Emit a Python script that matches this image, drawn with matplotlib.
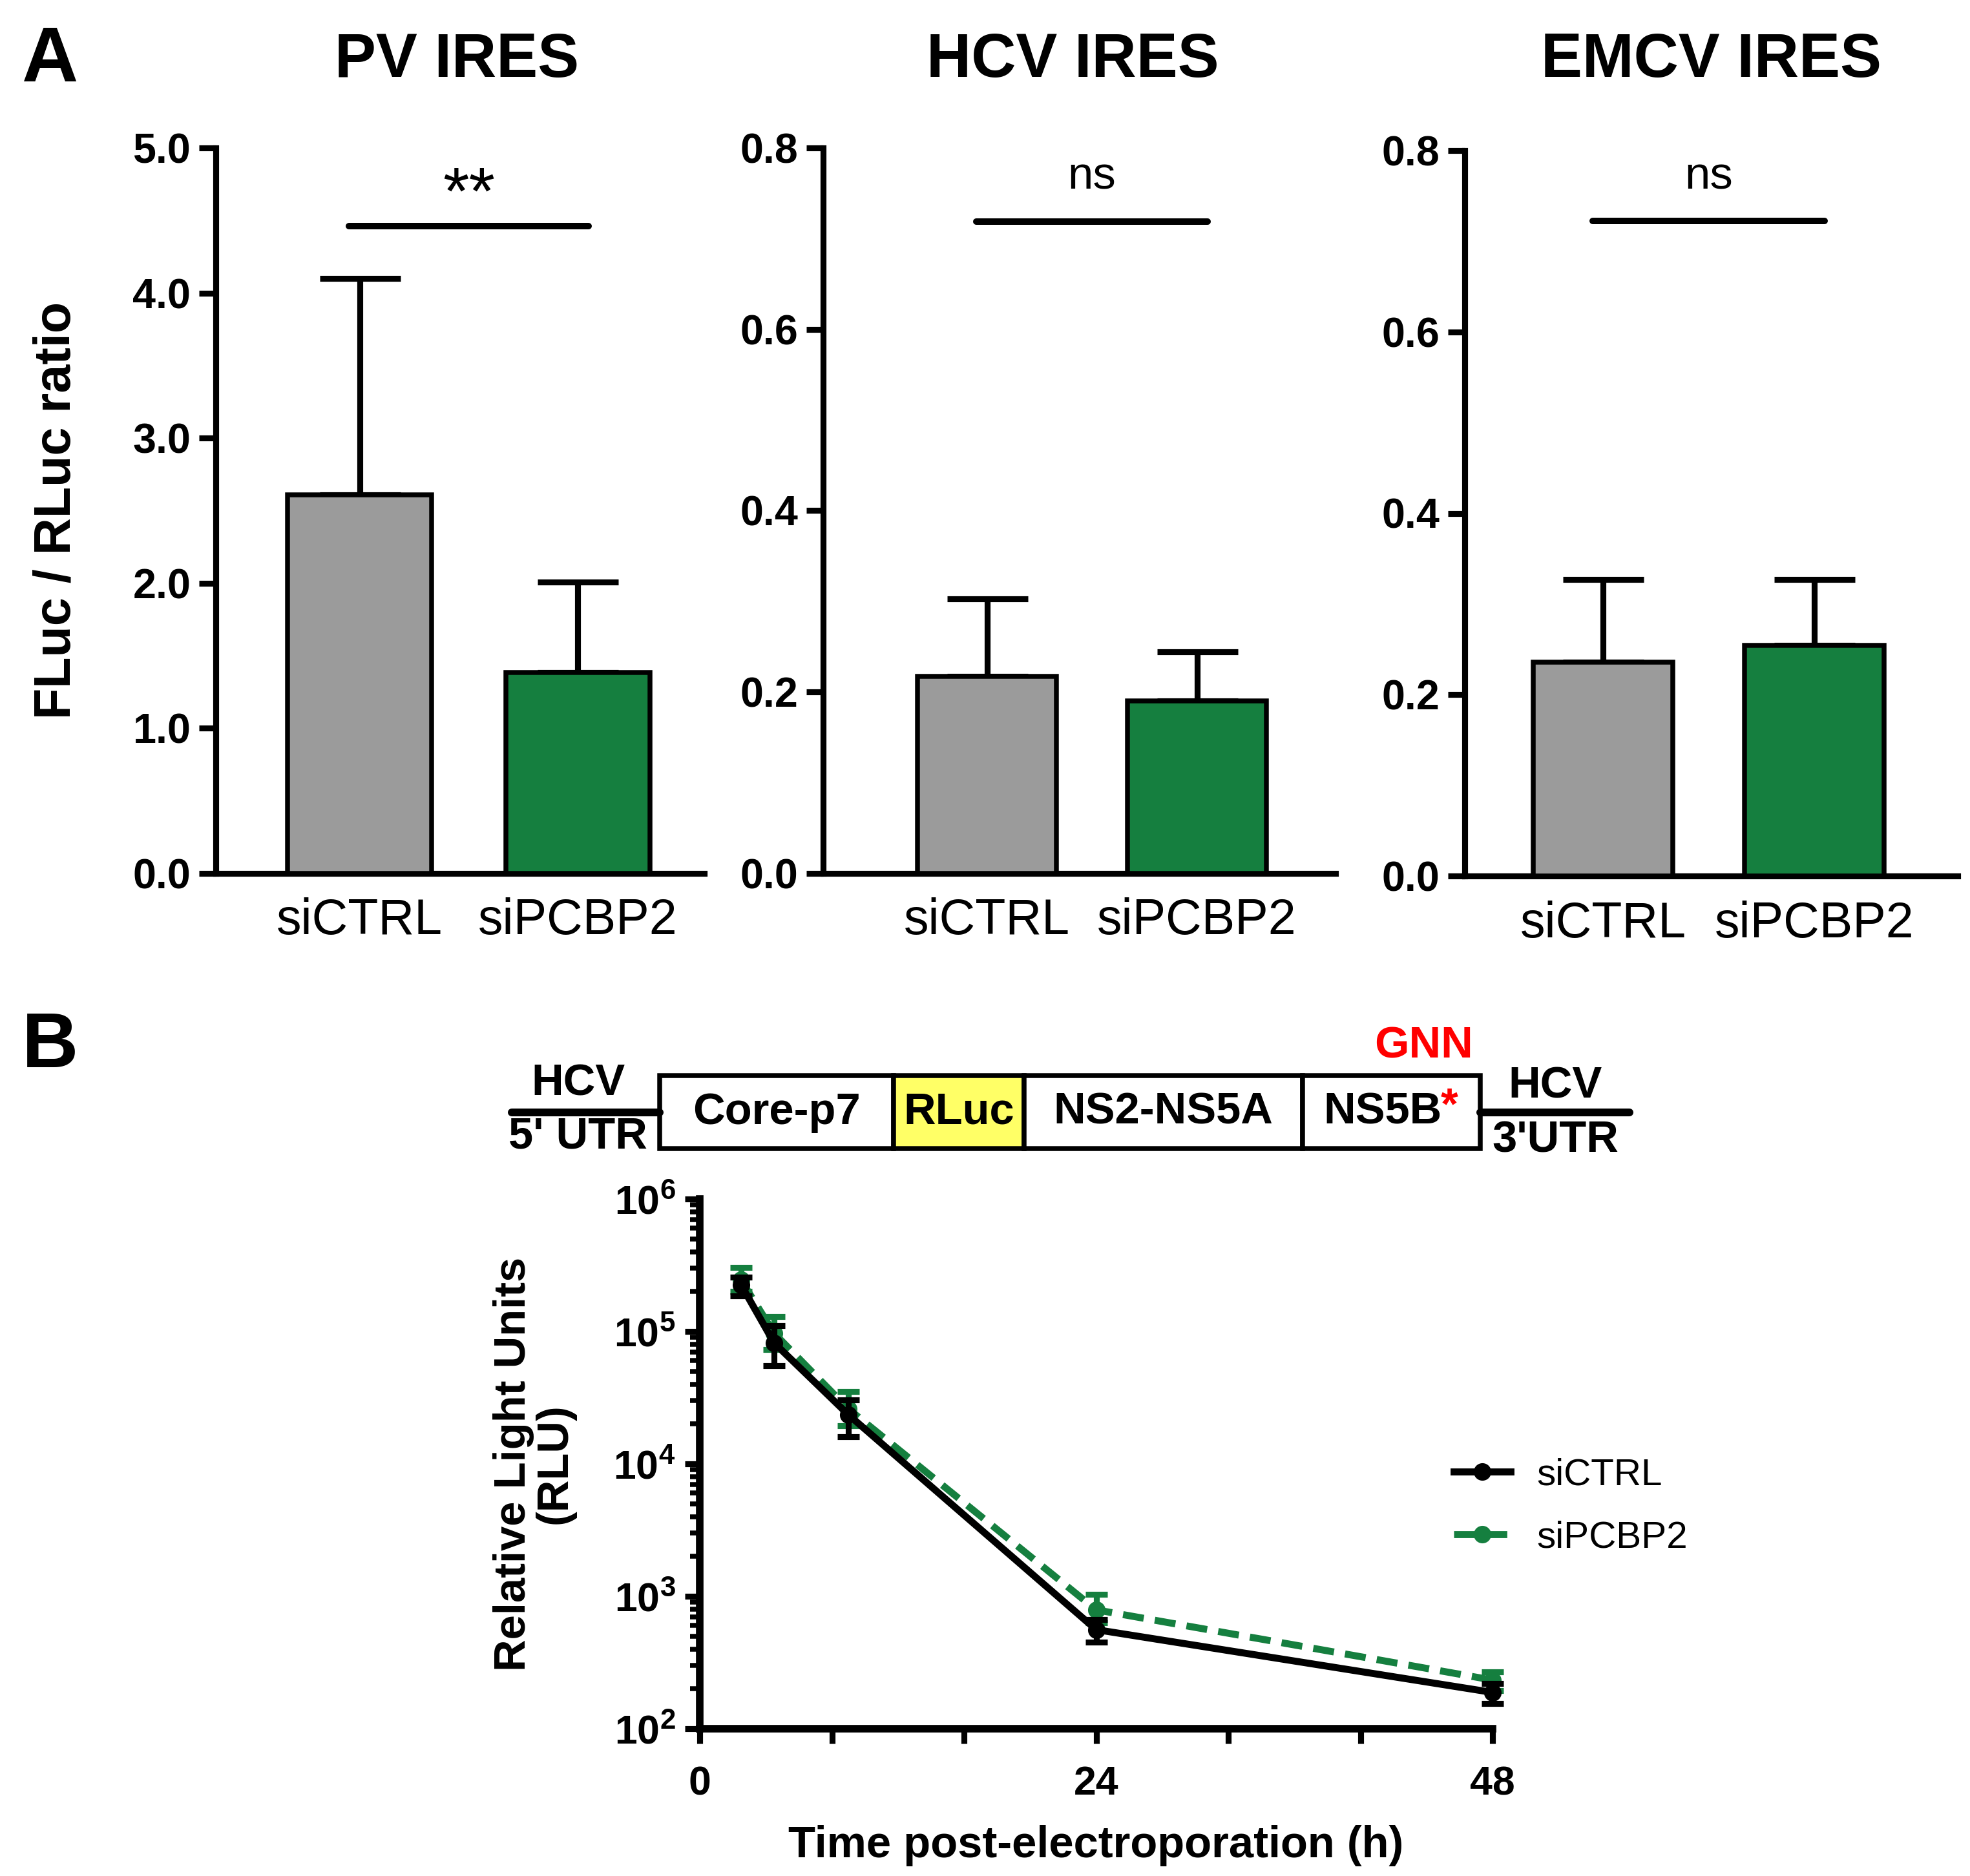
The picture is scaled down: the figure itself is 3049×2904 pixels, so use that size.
import numpy as np
import matplotlib
matplotlib.use("Agg")
import matplotlib.pyplot as plt
from matplotlib.patches import Rectangle
from matplotlib.lines import Line2D

plt.rcParams['font.family'] = ['Liberation Sans', 'DejaVu Sans']
plt.rcParams['mathtext.fontset'] = 'custom'
plt.rcParams['mathtext.rm'] = 'Liberation Sans:bold'
plt.rcParams['mathtext.bf'] = 'Liberation Sans:bold'
plt.rcParams['axes.linewidth'] = 2.2

# ---- panel A data ----
groups = ['siCTRL', 'siPCBP2']
titles = ['PV IRES', 'HCV IRES', 'EMCV IRES']
means = [[2.61, 1.385], [0.217, 0.190], [0.236, 0.254]]
errs_top = [[4.10, 2.01], [0.303, 0.244], [0.327, 0.327]]
sig_y = [4.46, 0.719, 0.722]
sig_txt = ['**', 'ns', 'ns']
ylims = [5.0, 0.8, 0.8]
ysteps = [1.0, 0.2, 0.2]

# ---- panel B data ----
hours = [2.5, 4.5, 9, 24, 48]
ctrl_rlu = [2.25e5, 8.2e4, 2.35e4, 560, 188]
ctrl_lo = [1.86e5, 5.5e4, 1.6e4, 450, 155]
ctrl_hi = [2.57e5, 1.11e5, 3.05e4, 665, 220]
pcbp_rlu = [2.45e5, 9.7e4, 2.6e4, 790, 233]
pcbp_lo = [2.0e5, 7.3e4, 1.95e4, 630, 195]
pcbp_hi = [3.05e5, 1.3e5, 3.5e4, 1030, 268]

gray = '#9b9b9b'
green = '#157f3f'

W, H = 3049, 2904
fig = plt.figure(figsize=(W / 300, H / 300), dpi=300)

def fx(px):
    return px / W

def fy(py):
    return 1 - py / H

# axes rectangles (pixel coords: left, right, top, bottom)
boxes = [(334, 1090, 229, 1352), (1274, 2067, 229, 1352), (2267, 3030, 233, 1356)]
xlims = [(-0.66, 1.58), (-0.78, 1.66), (-0.655, 1.68)]

for i in range(3):
    l, r, t, b = boxes[i]
    ax = fig.add_axes([fx(l), fy(b), fx(r) - fx(l), fy(t) - fy(b)])
    x = np.arange(len(groups))
    ax.bar(x, means[i], width=0.66, color=[gray, green], edgecolor='black',
           linewidth=1.8, zorder=3)
    ax.errorbar(x, means[i], yerr=[np.zeros(2), np.array(errs_top[i]) - np.array(means[i])],
                fmt='none', ecolor='black', elinewidth=2.2, capsize=15, capthick=2.2, zorder=2)
    ax.plot([0 - 0.05, 1 + 0.05], [sig_y[i], sig_y[i]], color='black', lw=2.4,
            solid_capstyle='round')
    if sig_txt[i] == '**':
        ax.text(0.5, sig_y[i] + 0.1, sig_txt[i], ha='center', va='center',
                fontsize=25, transform=ax.transData)
        ax.texts[-1].set_y(4.66)
    else:
        ax.text(0.5, sig_y[i] + 0.025, sig_txt[i], ha='center', va='bottom',
                fontsize=17)
    ax.set_ylim(0, ylims[i])
    ax.set_xlim(*xlims[i])
    ax.set_yticks(np.arange(0, ylims[i] + 1e-9, ysteps[i]))
    ax.set_yticklabels(['%.1f' % v for v in np.arange(0, ylims[i] + 1e-9, ysteps[i])],
                       fontweight='bold', fontsize=15.5)
    ax.set_xticks(x)
    ax.set_xticklabels(groups, fontsize=18.5)
    ax.tick_params(axis='x', length=0, pad=9)
    ax.tick_params(axis='y', length=6.3, width=2.2, pad=3)
    ax.spines['top'].set_visible(False)
    ax.spines['right'].set_visible(False)
    fig.text(fx((l + r) / 2 + [-5, -10, 0][i]), fy(94), titles[i], ha='center',
             va='center', fontsize=23, fontweight='bold')
    if i == 0:
        fig.text(fx(88), fy(790), 'FLuc / RLuc ratio', rotation=90, ha='center',
                 va='center', fontsize=19, fontweight='bold')

fig.text(fx(78), fy(94), 'A', ha='center', va='center', fontsize=29, fontweight='bold')
fig.text(fx(78), fy(1620), 'B', ha='center', va='center', fontsize=29, fontweight='bold')

# ---- schematic of the construct ----
sx = fig.add_axes([0, 0, 1, 1], zorder=-1)
sx.set_xlim(0, W)
sx.set_ylim(H, 0)
sx.axis('off')
seg_names = ['Core-p7', 'RLuc', 'NS2-NS5A', 'NS5B']
seg_edges = [1021, 1383, 1585, 2016, 2291]
seg_colors = ['white', '#ffff66', 'white', 'white']
top_y, bot_y = 1665, 1778
mid_y = (top_y + bot_y) / 2
sx.plot([792, 1021], [mid_y, mid_y], color='black', lw=2.9, solid_capstyle='round')
sx.plot([2291, 2522], [mid_y, mid_y], color='black', lw=2.9, solid_capstyle='round')
for k in range(len(seg_names)):
    x0, x1 = seg_edges[k], seg_edges[k + 1]
    sx.add_patch(Rectangle((x0, top_y), x1 - x0, bot_y - top_y, facecolor=seg_colors[k],
                           edgecolor='black', lw=1.8))
    if seg_names[k] == 'NS5B':
        sx.text(2140, mid_y, 'NS5B', ha='center', va='center',
                fontsize=16.5, fontweight='bold')
        sx.text(2230, mid_y - 8, '*', ha='left', va='center',
                fontsize=16.5, fontweight='bold', color='red')
    else:
        sx.text((x0 + x1) / 2, mid_y, seg_names[k], ha='center', va='center',
                fontsize=16.5, fontweight='bold')
sx.text(895, 1677, 'HCV', ha='center', va='center', fontsize=16.5, fontweight='bold')
sx.text(894, 1760, "5' UTR", ha='center', va='center', fontsize=16.5, fontweight='bold')
sx.text(2407, 1682, 'HCV', ha='center', va='center', fontsize=16.5, fontweight='bold')
sx.text(2407, 1766, "3'UTR", ha='center', va='center', fontsize=16.5, fontweight='bold')
sx.text(2203, 1620, 'GNN', ha='center', va='center', fontsize=16.5, fontweight='bold',
        color='red')

# ---- RLU time course ----
bx = fig.add_axes([fx(1083), fy(2676), fx(2310) - fx(1083), fy(1856) - fy(2676)])
c_err = [np.array(ctrl_rlu) - np.array(ctrl_lo), np.array(ctrl_hi) - np.array(ctrl_rlu)]
p_err = [np.array(pcbp_rlu) - np.array(pcbp_lo), np.array(pcbp_hi) - np.array(pcbp_rlu)]
dash = (0, (3, 1.6))
bx.errorbar(hours, pcbp_rlu, yerr=p_err, color=green, lw=2.6, ls=dash,
            marker='o', ms=5.5, elinewidth=2.2, capsize=4, capthick=2.2,
            clip_on=False, zorder=3)
bx.errorbar(hours, ctrl_rlu, yerr=c_err, color='black', lw=2.6, marker='o', ms=5.5,
            elinewidth=2.2, capsize=4, capthick=2.2, clip_on=False, zorder=4)
bx.set_yscale('log')
bx.set_ylim(1e2, 1e6)
bx.set_xlim(0, 48)
bx.set_yticks([1e2, 1e3, 1e4, 1e5, 1e6])
bx.set_yticklabels([r'$10^{2}$', r'$10^{3}$', r'$10^{4}$', r'$10^{5}$', r'$10^{6}$'],
                   fontsize=15)
bx.set_xticks(np.arange(0, 49, 8))
bx.set_xticklabels(['0', '', '', '24', '', '', '48'], fontsize=15, fontweight='bold')
bx.tick_params(axis='both', which='major', length=5.5, width=2.2)
bx.tick_params(axis='y', which='minor', length=3.5, width=1.8)
bx.tick_params(axis='x', pad=8)
bx.spines['top'].set_visible(False)
bx.spines['right'].set_visible(False)
bx.spines['left'].set_linewidth(2.8)
bx.spines['bottom'].set_linewidth(2.8)
bx.set_xlabel('Time post-electroporation (h)', fontsize=16.5, fontweight='bold',
              labelpad=8)
bx.set_ylabel('Relative Light Units\n(RLU)', fontsize=16.5, fontweight='bold',
              labelpad=14, linespacing=1.0)
handles = [Line2D([], [], color='black', lw=2.6, marker='o', ms=5.5),
           Line2D([], [], color=green, lw=2.6, ls=dash, marker='o', ms=5.5)]
fig.legend(handles, ['siCTRL', 'siPCBP2'], loc='center left',
           bbox_to_anchor=(fx(2250), fy(2332)), frameon=False, fontsize=14,
           handlelength=1.5, handletextpad=0.7, labelspacing=0.75,
           borderpad=0, borderaxespad=0)

fig.savefig('out.png', dpi=300)
